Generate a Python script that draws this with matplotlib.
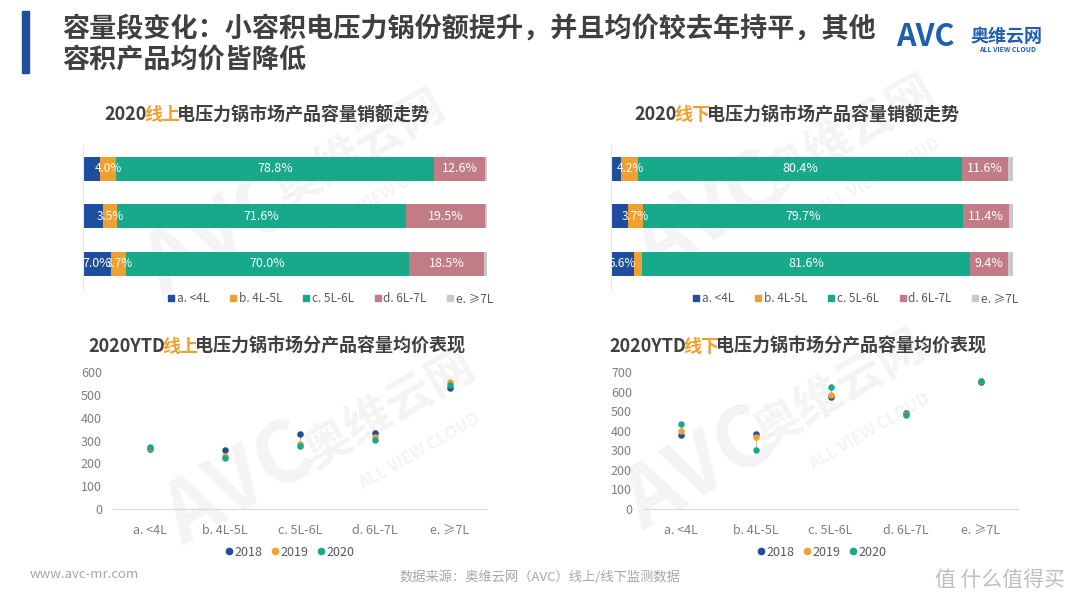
import matplotlib
matplotlib.use("Agg")
import matplotlib.pyplot as plt
from matplotlib.lines import Line2D
import numpy as np

plt.rcParams['font.family'] = ['Noto Sans CJK SC', 'DejaVu Sans']

# ---- data ----
categories = ['a. <4L', 'b. 4L-5L', 'c. 5L-6L', 'd. 6L-7L', 'e. ≥7L']
years = ['2018', '2019', '2020']

# 销额占比 (%), 三行自上而下, 每行 a..e
online_row1 = [4.2, 4.0, 78.8, 12.6, 0.4]
online_row2 = [4.9, 3.5, 71.6, 19.5, 0.5]
online_row3 = [7.0, 3.7, 70.0, 18.5, 0.8]
offline_row1 = [2.6, 4.2, 80.4, 11.6, 1.2]
offline_row2 = [4.2, 3.7, 79.7, 11.4, 1.0]
offline_row3 = [5.6, 2.2, 81.6, 9.4, 1.2]

# 均价
online_2018 = [262, 260, 330, 334, 529]
online_2019 = [268, 234, 283, 314, 557]
online_2020 = [272, 224, 276, 304, 544]
offline_2018 = [376, 381, 573, 493, 650]
offline_2019 = [397, 368, 585, 485, 652]
offline_2020 = [432, 303, 625, 480, 653]

seg_colors = ['#1F4E9C', '#F0A030', '#17A98A', '#C27C86', '#C9C9C9']
year_colors = ['#1F4E9C', '#F0A030', '#17A98A']
dark = '#404040'
orange = '#F0A030'
gray_txt = '#7F7F7F'

W, H = 1080, 608
fig = plt.figure(figsize=(W / 100, H / 100), dpi=100)
fig.patch.set_facecolor('white')


def px(l, t, r, b):
    return [l / W, 1 - b / H, (r - l) / W, (b - t) / H]


renderer = fig.canvas.get_renderer()


def text_w(s, size):
    t = fig.text(0, 0, s, fontsize=size, fontweight='bold')
    w = t.get_window_extent(renderer).width
    t.remove()
    return w


def rich_text(xc, y, pieces, size):
    # 多色标题, 居中于 xc; 每段右边缘对齐到整句前缀的右边缘
    full = ''.join(s for s, c in pieces)
    x0 = xc - text_w(full, size) / 2
    prefix = ''
    for i, (s, c) in enumerate(pieces):
        prefix += s
        right = x0 + text_w(prefix, size) - 3 * i  # 收紧拼接处
        fig.text(right / W, 1 - y / H, s, color=c, fontsize=size, fontweight='bold',
                 va='center', ha='right')


# ---- watermarks (behind axes) ----
for (x, y) in [(220, 235), (710, 215), (240, 485), (700, 470)]:
    fig.text(x / W, 1 - y / H, 'AVC', fontsize=60, fontweight='bold', style='italic',
             color='#F4F4F4', rotation=30, ha='center', va='center', zorder=-5)
for (x, y) in [(360, 150), (850, 135), (390, 410), (840, 390)]:
    fig.text(x / W, 1 - y / H, '奥维云网', fontsize=34, fontweight='bold',
             color='#F4F4F4', rotation=30, ha='center', va='center', zorder=-5)
    fig.text((x + 30) / W, 1 - (y + 42) / H, 'ALL VIEW CLOUD', fontsize=12, fontweight='bold',
             color='#F4F4F4', rotation=30, ha='center', va='center', zorder=-5)

# ---- header ----
fig.patches.append(plt.Rectangle((22 / W, 1 - 73 / H), 7 / W, 62 / H,
                                 transform=fig.transFigure, color='#1F4E9C'))
fig.text(62 / W, 1 - 30 / H, '容量段变化：小容积电压力锅份额提升，并且均价较去年持平，其他',
         fontsize=19.5, fontweight='bold', color=dark, va='center', ha='left')
fig.text(62 / W, 1 - 60 / H, '容积产品均价皆降低',
         fontsize=19.5, fontweight='bold', color=dark, va='center', ha='left')
fig.text(925 / W, 1 - 37 / H, 'AVC', fontsize=22, fontweight='bold', style='italic',
         color='#1F5FAF', va='center', ha='center')
fig.text(1006 / W, 1 - 36 / H, '奥维云网', fontsize=13, fontweight='bold',
         color='#1F5FAF', va='center', ha='center')
fig.text(1007 / W, 1 - 50 / H, 'ALL VIEW CLOUD', fontsize=5, fontweight='bold',
         color='#1F5FAF', va='center', ha='center')


# ---- stacked bars ----
def bar_panel(l, r, rows, title_pieces, title_xc, legend_xc):
    ax = fig.add_axes(px(l, 145, r, 290))
    y = np.arange(len(rows))
    data = np.array(rows)
    left = np.zeros(len(rows))
    for k in range(data.shape[1]):
        ax.barh(y, data[:, k], left=left, height=0.5, color=seg_colors[k], zorder=2)
        if k < 4:
            for i in range(len(rows)):
                v = data[i, k]
                # 小容量段的标签在原图中被遮住, 只保留能看见的
                if (k == 0 and v >= 5) or (k > 0 and v >= 2.5):
                    ax.text(left[i] + v / 2, y[i], f'{v:.1f}%', color='white',
                            fontsize=8.5 if v < 6 else 9, ha='center', va='center', zorder=3)
        left += data[:, k]
    ax.set_xlim(0, 100)
    ax.set_ylim(2.55, -0.5)
    ax.set_xticks([])
    ax.set_yticks([])
    for s in ['top', 'right', 'bottom']:
        ax.spines[s].set_visible(False)
    ax.spines['left'].set_color('#E6E6E6')
    ax.patch.set_alpha(0)
    rich_text(title_xc, 115, title_pieces, 13)
    handles = [Line2D([], [], marker='s', ls='', color=c, markersize=5) for c in seg_colors]
    fig.legend(handles, categories, loc='center', bbox_to_anchor=(legend_xc / W, 1 - 299 / H),
               ncol=5, frameon=False, fontsize=8.5, labelcolor='#595959',
               handletextpad=0.1, columnspacing=1.6, handlelength=0.8)


bar_panel(83, 487, [online_row1, online_row2, online_row3],
          [('2020', dark), ('线上', orange), ('电压力锅市场产品容量销额走势', dark)], 270, 330)
bar_panel(611, 1013, [offline_row1, offline_row2, offline_row3],
          [('2020', dark), ('线下', orange), ('电压力锅市场产品容量销额走势', dark)], 800, 855)


# ---- price scatter ----
def dot_panel(l, r, top, ymax, series, title_pieces, title_xc, legend_xc):
    ax = fig.add_axes(px(l, top, r, 509))
    x = np.arange(len(categories))
    arr = np.array(series)
    ax.vlines(x, arr.min(axis=0), arr.max(axis=0), color='#BFBFBF', lw=0.8, zorder=1)
    for vals, c, lab in zip(series, year_colors, years):
        ax.scatter(x, vals, s=22, color=c, label=lab, zorder=3, linewidths=0)
    ax.set_xlim(-0.5, len(categories) - 0.5)
    ax.set_ylim(0, ymax)
    ax.set_yticks(np.arange(0, ymax + 1, 100))
    ax.set_xticks(x)
    ax.set_xticklabels(categories)
    ax.tick_params(length=0, colors=gray_txt, labelsize=9)
    ax.tick_params(axis='x', pad=11)
    ax.tick_params(axis='y', pad=8)
    for s in ['top', 'right', 'left']:
        ax.spines[s].set_visible(False)
    ax.spines['bottom'].set_color('#D9D9D9')
    ax.patch.set_alpha(0)
    rich_text(title_xc, 346, title_pieces, 13)
    handles = [Line2D([], [], marker='o', ls='', color=c, markersize=4.5) for c in year_colors]
    fig.legend(handles, years, loc='center', bbox_to_anchor=(legend_xc / W, 1 - 552 / H),
               ncol=3, frameon=False, fontsize=9, labelcolor='#595959',
               handletextpad=0.05, columnspacing=0.6, handlelength=0.8)


dot_panel(113, 487, 372, 600, [online_2018, online_2019, online_2020],
          [('2020YTD', dark), ('线上', orange), ('电压力锅市场分产品容量均价表现', dark)], 280, 289)
dot_panel(643, 1018, 372, 700, [offline_2018, offline_2019, offline_2020],
          [('2020YTD', dark), ('线下', orange), ('电压力锅市场分产品容量均价表现', dark)], 801, 821)

# ---- footer ----
fig.text(30 / W, 1 - 575 / H, 'www.avc-mr.com', fontsize=9.5, color='#A6A6A6', va='center')
fig.text(540 / W, 1 - 577 / H, '数据来源：奥维云网（AVC）线上/线下监测数据', fontsize=9.5,
         color='#A6A6A6', va='center', ha='center')
fig.text(1000 / W, 1 - 580 / H, '值 什么值得买', fontsize=15, color='#BFBFBF',
         va='center', ha='center')

fig.savefig('out.png', dpi=100)
